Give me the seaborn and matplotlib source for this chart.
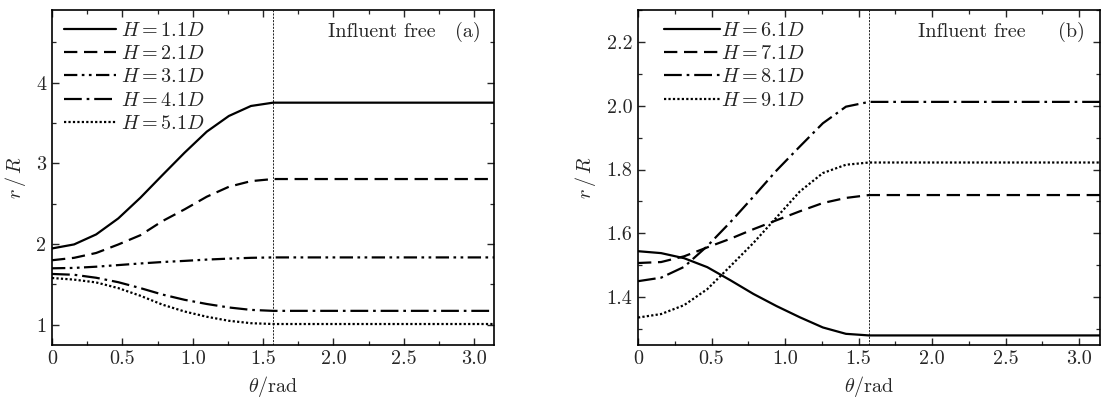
import matplotlib
matplotlib.use("Agg")
import matplotlib.pyplot as plt
from matplotlib.ticker import MultipleLocator, FuncFormatter
import numpy as np
import pandas as pd
import seaborn as sns

# theta grid (rad), the curves are flat after pi/2
theta = [0.0, 0.157, 0.314, 0.471, 0.628, 0.785, 0.942, 1.100, 1.257, 1.414, 1.571, 3.1416]

# panel (a)
h11 = [1.946, 1.996, 2.120, 2.318, 2.574, 2.855, 3.132, 3.393, 3.587, 3.711, 3.752, 3.752]
h21 = [1.800, 1.830, 1.890, 1.995, 2.110, 2.285, 2.430, 2.587, 2.710, 2.780, 2.806, 2.806]
h31 = [1.700, 1.705, 1.720, 1.740, 1.760, 1.778, 1.792, 1.808, 1.820, 1.830, 1.835, 1.835]
h41 = [1.630, 1.620, 1.583, 1.528, 1.455, 1.375, 1.310, 1.258, 1.215, 1.185, 1.173, 1.173]
h51 = [1.580, 1.560, 1.525, 1.455, 1.360, 1.250, 1.165, 1.100, 1.050, 1.020, 1.010, 1.010]

# panel (b)
h61 = [1.544, 1.538, 1.522, 1.494, 1.453, 1.410, 1.372, 1.337, 1.305, 1.285, 1.280, 1.280]
h71 = [1.507, 1.510, 1.528, 1.556, 1.583, 1.613, 1.641, 1.669, 1.695, 1.711, 1.720, 1.720]
h81 = [1.450, 1.461, 1.495, 1.560, 1.635, 1.715, 1.797, 1.872, 1.945, 1.997, 2.012, 2.012]
h91 = [1.336, 1.347, 1.375, 1.425, 1.497, 1.570, 1.650, 1.731, 1.789, 1.815, 1.822, 1.822]

labels_a = ["$H=1.1D$", "$H=2.1D$", "$H=3.1D$", "$H=4.1D$", "$H=5.1D$"]
labels_b = ["$H=6.1D$", "$H=7.1D$", "$H=8.1D$", "$H=9.1D$"]

sns.set_theme(style="ticks")
plt.rcParams.update({
    "font.family": "serif",
    "font.serif": ["cmr10", "DejaVu Serif"],
    "mathtext.fontset": "cm",
    "axes.formatter.use_mathtext": True,
    "font.size": 14,
    "axes.linewidth": 1.2,
    "xtick.direction": "in",
    "ytick.direction": "in",
    "xtick.top": True,
    "ytick.right": True,
})

solid = "-"
dashed = (0, (6, 3))
dashdotdot = (0, (6, 2, 1.2, 2, 1.2, 2))
dashdot = (0, (8, 2.2, 1.2, 2.2))
dotted = (0, (1.0, 1.0))

lw = 1.6
fs = 14.5


def make_long(series, labels):
    frames = []
    for vals, lab in zip(series, labels):
        frames.append(pd.DataFrame({"theta": theta, "r": vals, "H": lab}))
    return pd.concat(frames, ignore_index=True)


def draw_panel(ax, df, labels, styles):
    for lab, st in zip(labels, styles):
        sub = df[df["H"] == lab]
        sns.lineplot(data=sub, x="theta", y="r", ax=ax, color="black", lw=lw,
                     linestyle=st, label=lab, sort=False, estimator=None)
    ax.axvline(np.pi / 2, color="black", lw=0.6, linestyle=(0, (2.5, 1.5)))
    ax.set_xlim(0, np.pi)
    ax.xaxis.set_major_locator(MultipleLocator(0.5))
    ax.xaxis.set_minor_locator(MultipleLocator(0.25))
    ax.xaxis.set_major_formatter(FuncFormatter(lambda v, p: "0" if abs(v) < 1e-9 else f"{v:.1f}"))
    ax.set_xlabel(r"$\theta/\mathrm{rad}$", fontsize=fs, labelpad=4)
    ax.set_ylabel(r"$r\,/\,R$", fontsize=fs, labelpad=6)
    ax.tick_params(which="major", length=5, width=1.0, labelsize=fs, pad=4)
    ax.tick_params(which="minor", length=2.8, width=0.9)
    for sp in ax.spines.values():
        sp.set_linewidth(1.2)
        sp.set_color("black")


fig = plt.figure(figsize=(11.02, 4.03), dpi=100)
ax1 = fig.add_axes([52 / 1102, 1 - 345 / 403, 442 / 1102, 335 / 403])
ax2 = fig.add_axes([638 / 1102, 1 - 345 / 403, 462 / 1102, 335 / 403])

df_a = make_long([h11, h21, h31, h41, h51], labels_a)
draw_panel(ax1, df_a, labels_a, [solid, dashed, dashdotdot, dashdot, dotted])
ax1.set_ylim(0.75, 4.9)
ax1.yaxis.set_major_locator(MultipleLocator(1))
ax1.yaxis.set_minor_locator(MultipleLocator(0.5))
ax1.yaxis.set_major_formatter(FuncFormatter(lambda v, p: f"{v:.0f}"))
ax1.legend(loc="upper left", frameon=False, fontsize=fs, handlelength=2.6,
           handletextpad=0.25, labelspacing=0.25, borderaxespad=0.2,
           bbox_to_anchor=(0.0, 1.0))
ax1.text(0.624, 0.935, "Influent free", transform=ax1.transAxes, fontsize=fs, va="center")
ax1.text(0.912, 0.935, "(a)", transform=ax1.transAxes, fontsize=fs, va="center")

df_b = make_long([h61, h71, h81, h91], labels_b)
draw_panel(ax2, df_b, labels_b, [solid, dashed, dashdot, dotted])
ax2.set_ylim(1.25, 2.3)
ax2.yaxis.set_major_locator(MultipleLocator(0.2))
ax2.yaxis.set_minor_locator(MultipleLocator(0.1))
ax2.yaxis.set_major_formatter(FuncFormatter(lambda v, p: f"{v:.1f}"))
ax2.legend(loc="upper left", frameon=False, fontsize=fs, handlelength=2.8,
           handletextpad=0.05, labelspacing=0.25, borderaxespad=0.2,
           bbox_to_anchor=(0.03, 1.0))
ax2.text(0.606, 0.935, "Influent free", transform=ax2.transAxes, fontsize=fs, va="center")
ax2.text(0.909, 0.935, "(b)", transform=ax2.transAxes, fontsize=fs, va="center")

fig.savefig("out.png", dpi=100)
